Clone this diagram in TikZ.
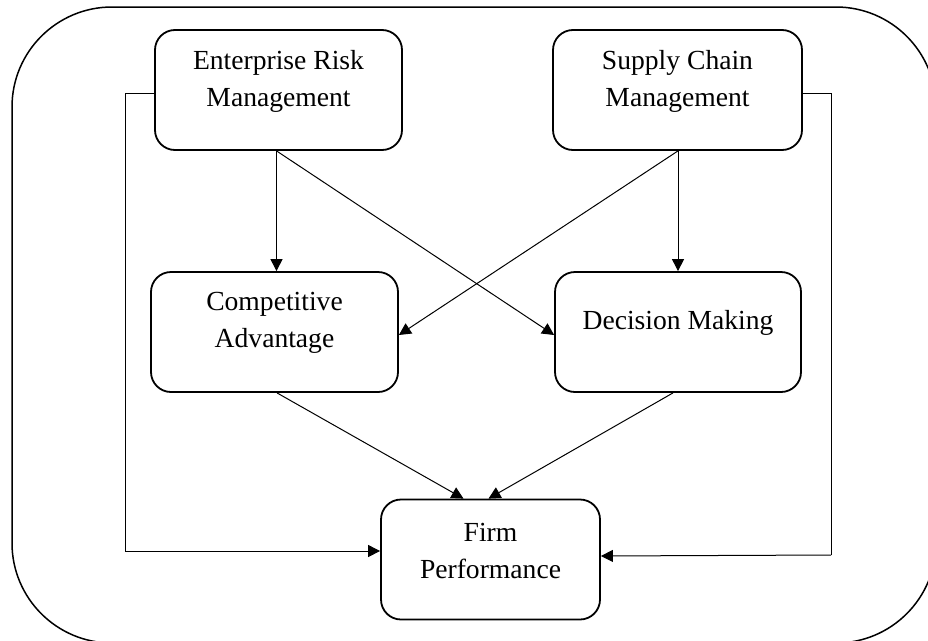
\documentclass[tikz,border=0pt]{standalone}
\usepackage{fontspec}
\setmainfont{Liberation Serif}
\usetikzlibrary{arrows.meta,calc}
\tikzset{
  box/.style={draw, line width=1.8pt, rounded corners=20pt, minimum width=#1, minimum height=120pt, inner sep=0pt},
  txt/.style={align=center, font=\fontsize{27.6}{37}\selectfont, inner sep=0pt},
  conn/.style={line width=1pt, -{Triangle[length=12pt,width=12pt]}},
  plain/.style={line width=1pt}
}
\begin{document}
\begin{tikzpicture}[x=1pt,y=-1pt]
\useasboundingbox (0,0) rectangle (928,640);
\begin{scope}
\clip (0,0) rectangle (928,640);
\draw[line width=1.5pt, rounded corners=100pt] (12,7) rectangle (936,643);
\end{scope}
% boxes
\node[box=247pt] (erm) at (278.5,90) {};
\node[box=249pt] (scm) at (677.5,90) {};
\node[box=247pt] (ca) at (274.5,332) {};
\node[box=246pt] (dm) at (678,332) {};
\node[box=219pt, minimum height=120pt] (fp) at (490.5,559.5) {};
% texts
\node[txt] (ermt) at (278.5,81) {Enterprise Risk\\Management};
\node[txt] (scmt) at (677.5,81) {Supply Chain\\Management};
\node[txt] (cat) at (274.5,323) {Competitive\\Advantage};
\node[txt] (dmt) at (678,323) {Decision Making};
\node[txt] (fpt) at (490.5,551) {Firm\\Performance};
% coordinates
\coordinate (ermb) at ($(erm.south)+(-2,0)$);
\coordinate (scmb) at ($(scm.south)+(0.5,0)$);
\coordinate (cab) at ($(ca.south)+(2.5,0)$);
\coordinate (dmb) at ($(dm.south)+(-5,0)$);
\coordinate (l1) at (125,93);
\coordinate (l2) at (125,551);
\coordinate (r1) at (831,93);
\coordinate (r2) at (831,555);
% connectors
\draw[conn] (ermb) -- (ermb |- ca.north);
\draw[conn] (scmb) -- (scmb |- dm.north);
\draw[conn] (ermb) -- ($(dm.west)+(0,3)$);
\draw[conn] (scmb) -- ($(ca.east)+(0,3)$);
\draw[conn] (cab) -- ($(fp.north)+(-27,0)$);
\draw[conn] (dmb) -- ($(fp.north)+(-2,0)$);
\draw[plain] (erm.west |- l1) -- (l1) -- (l2);
\draw[conn] (l2) -- (fp.west |- l2);
\draw[plain] (scm.east |- r1) -- (r1) -- (r2);
\draw[conn] (r2) -- ($(fp.east)+(0,-3.5)$);
\end{tikzpicture}
\end{document}
